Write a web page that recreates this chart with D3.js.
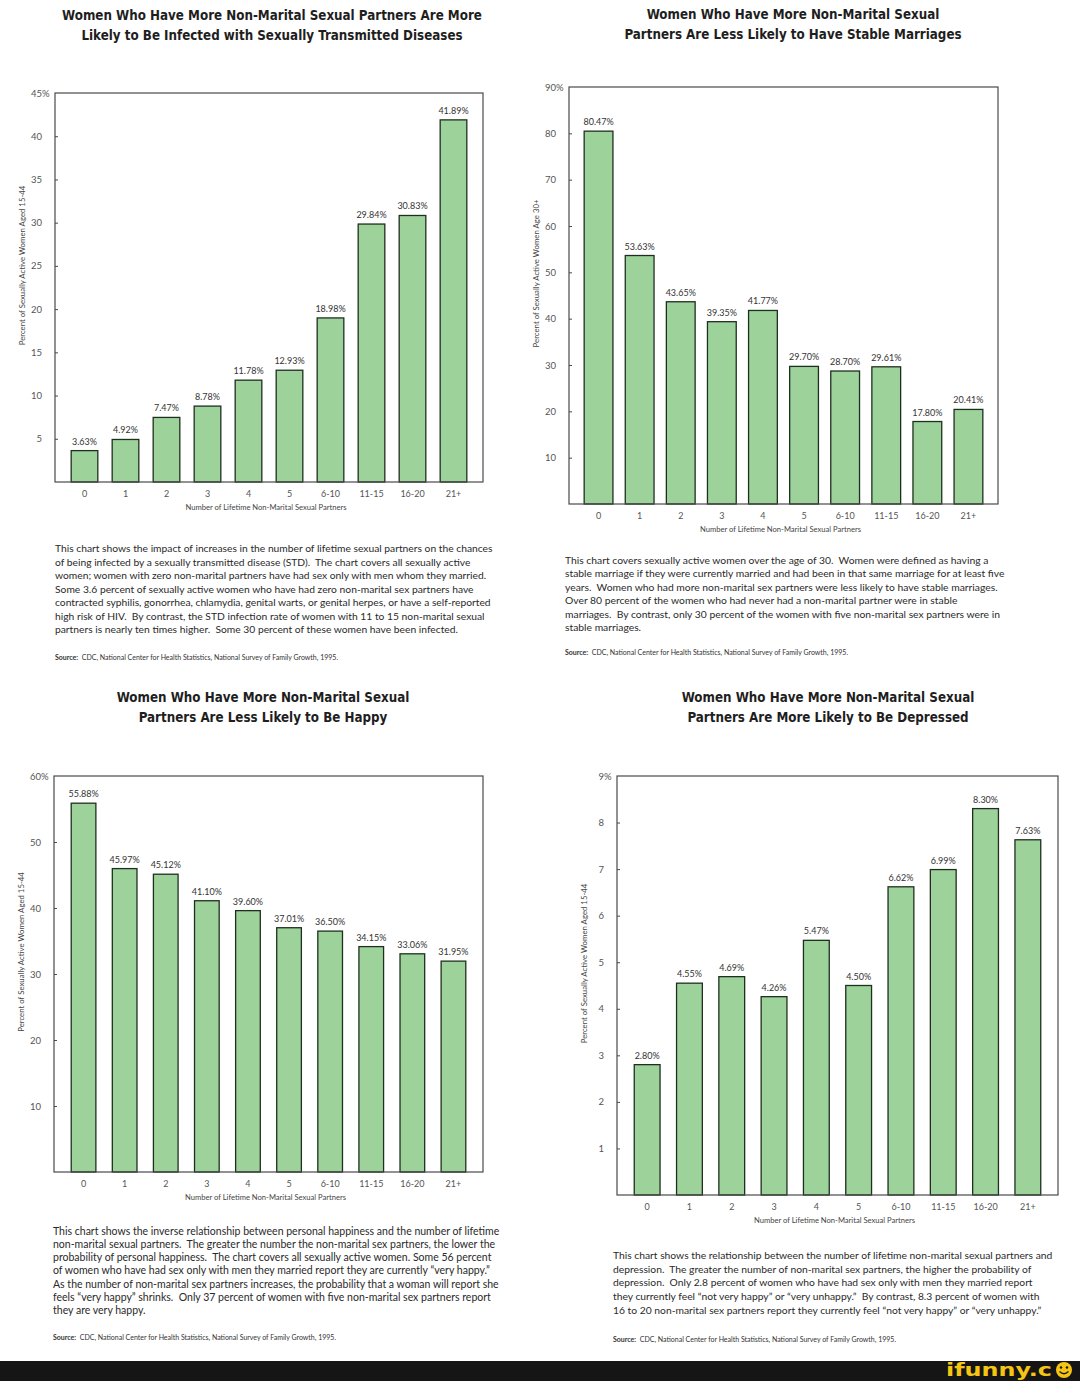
<!DOCTYPE html>
<html><head><meta charset="utf-8">
<script src="https://cdn.jsdelivr.net/npm/d3@7"></script>
<style>body{margin:0;background:#fff}svg{display:block}</style>
</head><body>
<svg id="c" width="1080" height="1381"></svg>
<script>
// ---------------- DATA ----------------
const categories = ["0","1","2","3","4","5","6-10","11-15","16-20","21+"];

const stdValues       = [3.63, 4.92, 7.47, 8.78, 11.78, 12.93, 18.98, 29.84, 30.83, 41.89];
const marriageValues  = [80.47, 53.63, 43.65, 39.35, 41.77, 29.70, 28.70, 29.61, 17.80, 20.41];
const happyValues     = [55.88, 45.97, 45.12, 41.10, 39.60, 37.01, 36.50, 34.15, 33.06, 31.95];
const depressedValues = [2.80, 4.55, 4.69, 4.26, 5.47, 4.50, 6.62, 6.99, 8.30, 7.63];

const stdTicks       = [5, 10, 15, 20, 25, 30, 35, 40, 45];
const marriageTicks  = [10, 20, 30, 40, 50, 60, 70, 80, 90];
const happyTicks     = [10, 20, 30, 40, 50, 60];
const depressedTicks = [1, 2, 3, 4, 5, 6, 7, 8, 9];

const stdTitle = ["Women Who Have More Non-Marital Sexual Partners Are More",
                  "Likely to Be Infected with Sexually Transmitted Diseases"];
const marriageTitle = ["Women Who Have More Non-Marital Sexual",
                       "Partners Are Less Likely to Have Stable Marriages"];
const happyTitle = ["Women Who Have More Non-Marital Sexual",
                    "Partners Are Less Likely to Be Happy"];
const depressedTitle = ["Women Who Have More Non-Marital Sexual",
                        "Partners Are More Likely to Be Depressed"];

const yLabel1544 = "Percent of Sexually Active Women Aged 15-44";
const yLabel30 = "Percent of Sexually Active Women Age 30+";
const xLabel = "Number of Lifetime Non-Marital Sexual Partners";

const stdCaption = [
 "This chart shows the impact of increases in the number of lifetime sexual partners on the chances",
 "of being infected by a sexually transmitted disease (STD).  The chart covers all sexually active",
 "women; women with zero non-marital partners have had sex only with men whom they married.",
 "Some 3.6 percent of sexually active women who have had zero non-marital sex partners have",
 "contracted syphilis, gonorrhea, chlamydia, genital warts, or genital herpes, or have a self-reported",
 "high risk of HIV.  By contrast, the STD infection rate of women with 11 to 15 non-marital sexual",
 "partners is nearly ten times higher.  Some 30 percent of these women have been infected."
];
const marriageCaption = [
 "This chart covers sexually active women over the age of 30.  Women were defined as having a",
 "stable marriage if they were currently married and had been in that same marriage for at least five",
 "years.  Women who had more non-marital sex partners were less likely to have stable marriages.",
 "Over 80 percent of the women who had never had a non-marital partner were in stable",
 "marriages.  By contrast, only 30 percent of the women with five non-marital sex partners were in",
 "stable marriages."
];
const happyCaption = [
 "This chart shows the inverse relationship between personal happiness and the number of lifetime",
 "non-marital sexual partners.  The greater the number the non-marital sex partners, the lower the",
 "probability of personal happiness.  The chart covers all sexually active women. Some 56 percent",
 "of women who have had sex only with men they married report they are currently \u201cvery happy.\u201d",
 "As the number of non-marital sex partners increases, the probability that a woman will report she",
 "feels \u201cvery happy\u201d shrinks.  Only 37 percent of women with five non-marital sex partners report",
 "they are very happy."
];
const depressedCaption = [
 "This chart shows the relationship between the number of lifetime non-marital sexual partners and",
 "depression.  The greater the number of non-marital sex partners, the higher the probability of",
 "depression.  Only 2.8 percent of women who have had sex only with men they married report",
 "they currently feel \u201cnot very happy\u201d or \u201cvery unhappy.\u201d  By contrast, 8.3 percent of women with",
 "16 to 20 non-marital sex partners report they currently feel \u201cnot very happy\u201d or \u201cvery unhappy.\u201d"
];
const sourceLabel = "Source:";
const sourceText = "CDC, National Center for Health Statistics, National Survey of Family Growth, 1995.";
const logoText = "ifunny.c";

// ---------------- LAYOUT ----------------
const panels = [
 {title: stdTitle, tx: 272, ty: 20, values: stdValues, ticks: stdTicks, yLab: yLabel1544,
  f: {l: 55, r: 483, t: 93, b: 482}, pad: 0.35, cap: stdCaption, cx: 55, cy: 552, lh: 13.55, fitLine: 0, capW: 438, sy: 660},
 {title: marriageTitle, tx: 793, ty: 19, values: marriageValues, ticks: marriageTicks, yLab: yLabel30,
  f: {l: 569, r: 998, t: 87, b: 504}, pad: 0.30, cap: marriageCaption, cx: 565, cy: 564, lh: 13.4, fitLine: 1, capW: 440, sy: 655},
 {title: happyTitle, tx: 263, ty: 702, values: happyValues, ticks: happyTicks, yLab: yLabel1544,
  f: {l: 54, r: 483, t: 776, b: 1172}, pad: 0.40, cap: happyCaption, cx: 53, cy: 1235, lh: 13.15, fitLine: 1, capW: 440, sy: 1340},
 {title: depressedTitle, tx: 828, ty: 702, values: depressedValues, ticks: depressedTicks, yLab: yLabel1544,
  f: {l: 617, r: 1058, t: 776, b: 1195}, pad: 0.39, cap: depressedCaption, cx: 613, cy: 1259, lh: 13.7, fitLine: 0, capW: 440, sy: 1342}
];

const svg = d3.select("#c");
svg.append("rect").attr("width", 1080).attr("height", 1381).attr("fill", "#fff");

const TITLE_FONT = "'Liberation Sans Narrow', 'DejaVu Sans Condensed', 'Noto Sans', sans-serif";
const BODY_FONT = "Lato, 'Open Sans', sans-serif";

function measure(txt, font, size, weight) {
  const t = svg.append("text").attr("font-family", font).attr("font-size", size)
    .attr("font-weight", weight || 400).text(txt);
  const w = t.node().getComputedTextLength();
  t.remove();
  return w;
}

// title size fitted from a sample line width
const titleSize = 16 * 293 / measure(marriageTitle[0], TITLE_FONT, 16, 700);

panels.forEach(p => {
  const f = p.f;
  // Title
  p.title.forEach((line, i) => {
    svg.append("text").attr("x", p.tx).attr("y", p.ty + i * 19.5)
      .attr("text-anchor", "middle").attr("font-family", TITLE_FONT)
      .attr("font-weight", 700).attr("font-size", titleSize).attr("fill", "#1e1e1e")
      .text(line);
  });

  const yMax = d3.max(p.ticks);
  const y = d3.scaleLinear().domain([0, yMax]).range([f.b, f.t]);
  const x = d3.scaleBand().domain(categories).range([f.l + 9, f.r - 9])
    .paddingInner(p.pad).paddingOuter(p.pad / 2);

  const g = svg.append("g");

  // bars
  g.selectAll("rect.bar").data(p.values).join("rect").attr("class", "bar")
    .attr("x", (d, i) => x(categories[i]))
    .attr("width", x.bandwidth())
    .attr("y", d => y(d))
    .attr("height", d => f.b - y(d))
    .attr("fill", "#9dd39b").attr("stroke", "#1f2f1f").attr("stroke-width", 1.3);

  // value labels
  g.selectAll("text.val").data(p.values).join("text").attr("class", "val")
    .attr("x", (d, i) => x(categories[i]) + x.bandwidth() / 2)
    .attr("y", d => y(d) - 6)
    .attr("text-anchor", "middle").attr("font-family", BODY_FONT)
    .attr("font-size", 9).attr("fill", "#333")
    .text(d => d.toFixed(2) + "%");

  // frame
  g.append("rect").attr("x", f.l).attr("y", f.t).attr("width", f.r - f.l).attr("height", f.b - f.t)
    .attr("fill", "none").attr("stroke", "#4a4a4a").attr("stroke-width", 1.2);

  // y axis
  const ya = g.append("g").attr("transform", `translate(${f.l},0)`)
    .call(d3.axisLeft(y).tickValues(p.ticks).tickSize(-3).tickPadding(13).tickFormat(d3.format("d")));
  ya.select(".domain").remove();
  ya.selectAll(".tick line").attr("stroke", "#4a4a4a");
  ya.selectAll(".tick text").attr("font-family", BODY_FONT).attr("font-size", 9.5).attr("fill", "#555");
  ya.selectAll(".tick").filter(d => d === yMax).each(function() {
    d3.select(this).select("line").remove();
    d3.select(this).append("text").attr("x", -13).attr("dy", "0.32em")
      .attr("text-anchor", "start").attr("font-family", BODY_FONT).attr("font-size", 9.5)
      .attr("fill", "#555").text("%");
  });
  ya.attr("font-family", null).attr("font-size", null);

  // x axis
  const xa = g.append("g").attr("transform", `translate(0,${f.b})`)
    .call(d3.axisBottom(x).tickSize(0).tickPadding(9));
  xa.select(".domain").remove();
  xa.selectAll(".tick text").attr("font-family", BODY_FONT).attr("font-size", 9).attr("fill", "#555");
  xa.attr("font-family", null).attr("font-size", null);

  // axis titles
  g.append("text").attr("x", (f.l + f.r) / 2 - 3).attr("y", f.b + 28)
    .attr("text-anchor", "middle").attr("font-family", BODY_FONT).attr("font-size", 7.6)
    .attr("fill", "#444").text(xLabel);
  g.append("text").attr("transform", `translate(${f.l - 30},${(f.t + f.b) / 2 - 22}) rotate(-90)`)
    .attr("text-anchor", "middle").attr("font-family", BODY_FONT).attr("font-size", 7.8)
    .attr("fill", "#444").text(p.yLab);

  // caption
  const capSize = 11 * p.capW / measure(p.cap[p.fitLine], BODY_FONT, 11, 400);
  p.cap.forEach((line, i) => {
    svg.append("text").attr("x", p.cx).attr("y", p.cy + i * p.lh)
      .attr("font-family", BODY_FONT).attr("font-size", capSize).attr("fill", "#2a2a2a")
      .style("white-space", "pre").text(line);
  });
  const src = svg.append("text").attr("x", p.cx).attr("y", p.sy)
    .attr("font-family", BODY_FONT).attr("font-size", 7).attr("fill", "#333")
    .style("white-space", "pre");
  src.append("tspan").attr("font-weight", 700).text(sourceLabel);
  src.append("tspan").text("  " + sourceText);
});

// bottom banner
svg.append("rect").attr("x", 0).attr("y", 1361).attr("width", 1080).attr("height", 20).attr("fill", "#151515");
svg.append("text").attr("x", 946).attr("y", 1375.5).attr("font-family", "'DejaVu Sans', sans-serif")
  .attr("font-weight", 700).attr("font-size", 18).attr("fill", "#f6c514")
  .attr("textLength", 106).attr("lengthAdjust", "spacingAndGlyphs").text(logoText);
svg.append("circle").attr("cx", 1064).attr("cy", 1370).attr("r", 8).attr("fill", "#f6c514");
svg.append("circle").attr("cx", 1061).attr("cy", 1367.5).attr("r", 1.2).attr("fill", "#151515");
svg.append("circle").attr("cx", 1067).attr("cy", 1367.5).attr("r", 1.2).attr("fill", "#151515");
svg.append("path").attr("d", "M1059.5,1371.5 Q1064,1376 1068.5,1371.5").attr("fill", "none")
  .attr("stroke", "#151515").attr("stroke-width", 1.2);
</script>
</body></html>
